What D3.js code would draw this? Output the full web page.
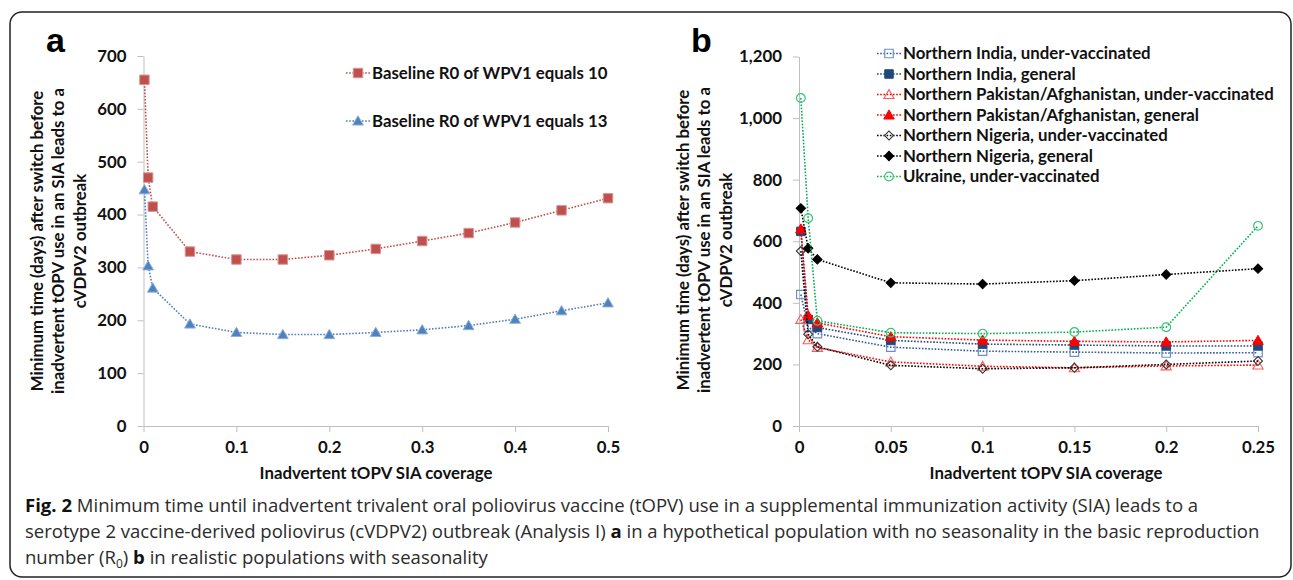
<!DOCTYPE html>
<html><head><meta charset="utf-8">
<script src="https://cdn.jsdelivr.net/npm/d3@7"></script>
<style>body{margin:0;background:#fff}svg{display:block}</style>
</head><body>
<svg id="c" width="1293" height="580"></svg>
<script>
// ---------- data: panel a ----------
const xA = [0.001, 0.005, 0.01, 0.05, 0.1, 0.15, 0.2, 0.25, 0.3, 0.35, 0.4, 0.45, 0.5];
const r0Ten = [655, 470, 415, 330, 315, 315, 323, 335, 350, 365, 385, 408, 431];
const r0Thirteen = [447, 303, 261, 193, 177, 173, 173, 177, 182, 190, 202, 218, 233];
const xTicksA = [0, 0.1, 0.2, 0.3, 0.4, 0.5];
const yTicksA = [0, 100, 200, 300, 400, 500, 600, 700];
const legendA = ["Baseline R0 of WPV1 equals 10", "Baseline R0 of WPV1 equals 13"];

// ---------- data: panel b ----------
const xB = [0.001, 0.005, 0.01, 0.05, 0.1, 0.15, 0.2, 0.25];
const indiaUnder = [427, 322, 300, 256, 243, 240, 237, 238];
const indiaGeneral = [632, 346, 320, 278, 266, 263, 260, 260];
const pakUnder = [346, 280, 255, 208, 194, 189, 195, 198];
const pakGeneral = [640, 359, 335, 290, 279, 275, 273, 278];
const nigUnder = [568, 298, 257, 197, 186, 189, 200, 211];
const nigGeneral = [707, 577, 541, 465, 461, 472, 492, 511];
const ukraineUnder = [1065, 675, 342, 303, 300, 305, 321, 650];
const xTicksB = [0, 0.05, 0.1, 0.15, 0.2, 0.25];
const yTicksB = [0, 200, 400, 600, 800, 1000, 1200];
const legendB = ["Northern India, under-vaccinated", "Northern India, general",
  "Northern Pakistan/Afghanistan, under-vaccinated", "Northern Pakistan/Afghanistan, general",
  "Northern Nigeria, under-vaccinated", "Northern Nigeria, general", "Ukraine, under-vaccinated"];

const yTitle = ["Minimum time (days) after switch before", "inadvertent tOPV use in an SIA leads to a", "cVDPV2 outbreak"];
const xTitle = "Inadvertent tOPV SIA coverage";

// ---------- fonts ----------
const BF = "Lato, 'Open Sans', sans-serif";
const CF = "'Liberation Sans Narrow', 'Open Sans', sans-serif";
const ctx = document.createElement('canvas').getContext('2d');
function mw(t, font) { ctx.font = font; return ctx.measureText(t).width; }
const bs = 16 * 371 / mw(legendB[2], "bold 16px " + BF);

const svg = d3.select('#c');
svg.append('rect').attr('x', 10).attr('y', 12).attr('width', 1281).attr('height', 565)
  .attr('rx', 12).attr('fill', 'none').attr('stroke', '#222').attr('stroke-width', 1.5);

function styleAxis(a) {
  a.attr('font-size', null).attr('font-family', null);
  a.select('.domain').attr('stroke', '#BFBFBF');
  a.selectAll('.tick line').attr('stroke', '#BFBFBF');
  a.selectAll('text').attr('font-family', BF).attr('font-weight', 'bold').attr('font-size', bs).attr('fill', '#111');
}

function drawAxes(x, y, xt, yt, xf, yf) {
  const ax = svg.append('g').attr('transform', `translate(0,${y(0)})`)
    .call(d3.axisBottom(x).tickValues(xt).tickFormat(xf).tickSize(6).tickSizeOuter(0).tickPadding(9));
  const ay = svg.append('g').attr('transform', `translate(${x(0)},0)`)
    .call(d3.axisLeft(y).tickValues(yt).tickFormat(yf).tickSize(6).tickSizeOuter(0).tickPadding(11));
  styleAxis(ax); styleAxis(ay);
}

function marker(sel, s) {
  let type = { square: d3.symbolSquare, triangle: d3.symbolTriangle, diamond: d3.symbolSquare, circle: d3.symbolCircle }[s.shape];
  sel.attr('d', d3.symbol(type, s.size)())
    .attr('fill', s.fill).attr('stroke', s.stroke).attr('stroke-width', s.sw || 1);
  return s.shape === 'diamond' ? ' rotate(45)' : (s.shape === 'triangle' ? ' translate(0,1)' : '');
}

function drawSeries(x, y, xs, ys, s) {
  const line = d3.line().x((d, i) => x(xs[i])).y(d => y(d));
  svg.append('path').attr('d', line(ys)).attr('fill', 'none').attr('stroke', s.line)
    .attr('stroke-width', 1.6).attr('stroke-dasharray', '1.6,1.6');
  svg.append('g').selectAll('path').data(ys).join('path').each(function (d, i) {
    const extra = marker(d3.select(this), s);
    d3.select(this).attr('transform', `translate(${x(xs[i])},${y(d)})` + extra);
  });
}

function legendItem(cx, cy, s, label) {
  svg.append('line').attr('x1', cx - 12).attr('x2', cx + 12).attr('y1', cy).attr('y2', cy)
    .attr('stroke', s.line).attr('stroke-width', 1.6).attr('stroke-dasharray', '1.6,1.6');
  const p = svg.append('path');
  const extra = marker(p, s);
  p.attr('transform', `translate(${cx},${cy})` + extra);
  svg.append('text').attr('x', cx + 14).attr('y', cy).attr('dy', '0.35em')
    .attr('font-family', BF).attr('font-weight', 'bold').attr('font-size', bs).attr('fill', '#111').text(label);
}

function yTitleDraw(cx0, cy) {
  yTitle.forEach((t, i) => {
    svg.append('text').attr('transform', `translate(${cx0 + i * 21.5},${cy}) rotate(-90)`)
      .attr('text-anchor', 'middle').attr('dy', '0.35em')
      .attr('font-family', BF).attr('font-weight', 'bold').attr('font-size', bs).attr('fill', '#111').text(t);
  });
}

// ---------- panel a ----------
const xa = d3.scaleLinear().domain([0, 0.5]).range([143.5, 608]);
const ya = d3.scaleLinear().domain([0, 700]).range([426, 56]);
drawAxes(xa, ya, xTicksA, yTicksA, d3.format(''), d3.format(''));
const sA = [
  { line: '#C0504D', shape: 'square', size: 90, fill: '#C0504D', stroke: '#DA9694' },
  { line: '#4F81BD', shape: 'triangle', size: 50, fill: '#4F81BD', stroke: '#8DB0DA' }
];
drawSeries(xa, ya, xA, r0Ten, sA[0]);
drawSeries(xa, ya, xA, r0Thirteen, sA[1]);
legendItem(358, 73, sA[0], legendA[0]);
legendItem(358, 121, sA[1], legendA[1]);
yTitleDraw(37, 241);
svg.append('text').attr('x', 376).attr('y', 479).attr('text-anchor', 'middle')
  .attr('font-family', BF).attr('font-weight', 'bold').attr('font-size', bs).attr('fill', '#111').text(xTitle);
svg.append('text').attr('x', 46).attr('y', 52).attr('font-family', "'Liberation Sans', Arial, sans-serif")
  .attr('font-weight', 'bold').attr('font-size', 34).attr('fill', '#000').text('a');

// ---------- panel b ----------
const xb = d3.scaleLinear().domain([0, 0.25]).range([799, 1258]);
const yb = d3.scaleLinear().domain([0, 1200]).range([426, 56.5]);
drawAxes(xb, yb, xTicksB, yTicksB, d3.format(''), d3.format(','));
const sB = [
  { line: '#2F5A9E', shape: 'square', size: 72, fill: 'none', stroke: '#6D8FC9', sw: 1.2 },
  { line: '#1F497D', shape: 'square', size: 72, fill: '#1F497D', stroke: '#1F497D' },
  { line: '#FF0000', shape: 'triangle', size: 45, fill: 'none', stroke: '#FF5A5A', sw: 1.1 },
  { line: '#FF0000', shape: 'triangle', size: 48, fill: '#FF0000', stroke: '#FF0000' },
  { line: '#000000', shape: 'diamond', size: 40, fill: 'none', stroke: '#333', sw: 1.1 },
  { line: '#000000', shape: 'diamond', size: 44, fill: '#000', stroke: '#000' },
  { line: '#00B050', shape: 'circle', size: 60, fill: 'none', stroke: '#3CC274', sw: 1.2 }
];
const seriesB = [indiaUnder, indiaGeneral, pakUnder, pakGeneral, nigUnder, nigGeneral, ukraineUnder];
seriesB.forEach((ys, i) => drawSeries(xb, yb, xB, ys, sB[i]));
const legYB = [53.5, 74, 94.5, 115, 135.5, 156, 176.5];
legendB.forEach((t, i) => legendItem(889, legYB[i], sB[i], t));
yTitleDraw(683, 240);
svg.append('text').attr('x', 1046).attr('y', 479).attr('text-anchor', 'middle')
  .attr('font-family', BF).attr('font-weight', 'bold').attr('font-size', bs).attr('fill', '#111').text(xTitle);
svg.append('text').attr('x', 691).attr('y', 52).attr('font-family', "'Liberation Sans', Arial, sans-serif")
  .attr('font-weight', 'bold').attr('font-size', 34).attr('fill', '#000').text('b');

// ---------- caption ----------
const capLines = [
  [{ b: 1, t: 'Fig. 2' }, { t: ' Minimum time until inadvertent trivalent oral poliovirus vaccine (tOPV) use in a supplemental immunization activity (SIA) leads to a' }],
  [{ t: 'serotype 2 vaccine-derived poliovirus (cVDPV2) outbreak (Analysis I) ' }, { b: 1, t: 'a' }, { t: ' in a hypothetical population with no seasonality in the basic reproduction' }],
  [{ t: 'number (R' }, { sub: 1, t: '0' }, { t: ') ' }, { b: 1, t: 'b' }, { t: ' in realistic populations with seasonality' }]
];
const w1 = capLines[0].reduce((a, p) => a + mw(p.t, (p.b ? 'bold ' : '') + '18px ' + CF), 0);
const cs = 18 * 1174 / w1;
const capY = [512, 538, 564];
capLines.forEach((parts, li) => {
  const t = svg.append('text').attr('x', 25).attr('y', capY[li]).attr('font-family', CF)
    .attr('font-size', cs).attr('fill', '#2b2b2b');
  parts.forEach(p => {
    const ts = t.append('tspan').text(p.t);
    if (p.b) ts.attr('font-weight', 'bold').attr('fill', '#111');
    if (p.sub) { ts.attr('font-size', cs * 0.65).attr('dy', 4); }
    else if (li === 2 && p.t === ') ') ts.attr('dy', -4);
  });
});
</script>
</body></html>
